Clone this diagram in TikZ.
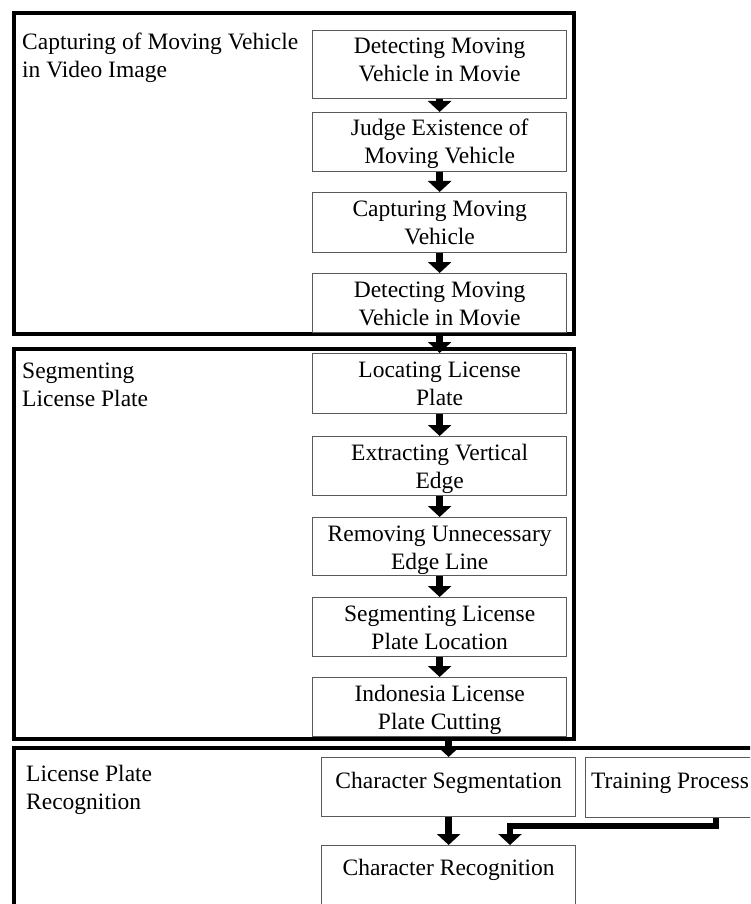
\documentclass[tikz,border=0pt]{standalone}
\usepackage{fontspec}
\setmainfont{Liberation Serif}
\usetikzlibrary{arrows.meta}
\newcommand\mkstep[5]{%
  \node[stepbox, minimum width=254pt, minimum height=#4pt, anchor=north west] (#1) at (#2,#3) {};
  \node[txt, anchor=base, align=center] (#1t) at ([yshift=-52pt]#1.north) {#5};}
\begin{document}
\begin{tikzpicture}[x=1pt,y=-1pt,
  every node/.style={font=\fontsize{23.5}{28}\selectfont},
  txt/.style={inner sep=0pt},
  stepbox/.style={draw=black!65, line width=1.3pt, rectangle, inner sep=0pt},
  sect/.style={draw=black, line width=4pt, line join=miter},
  arr/.style={line width=7pt, -{Triangle[width=23pt,length=11pt]}},
  elb/.style={line width=6pt, line join=miter, -{Triangle[width=23pt,length=11pt]}}]
\useasboundingbox (0,0) rectangle (750,904);
\clip (0,0) rectangle (750,904);
% section frames
\draw[sect] (13.5,13.5) rectangle (574,334);
\draw[sect] (13.5,348.7) rectangle (574,738.5);
\draw[sect] (13.5,930) -- (13.5,748) -- (780,748);
% section labels
\node[txt, anchor=base west, align=left] (l1) at (22,78) {Capturing of Moving Vehicle\\in Video Image};
\node[txt, anchor=base west, align=left] (l2) at (22,406) {Segmenting\\License Plate};
\node[txt, anchor=base west, align=left] (l3) at (26,809) {License Plate\\Recognition};
% steps
\mkstep{s1}{312}{30}{68}{Detecting Moving\\Vehicle in Movie}
\mkstep{s2}{312}{112}{59}{Judge Existence of\\Moving Vehicle}
\mkstep{s3}{312}{192}{60}{Capturing Moving\\Vehicle}
\mkstep{s4}{312}{273}{59}{Detecting Moving\\Vehicle in Movie}
\mkstep{s5}{312}{353}{60}{Locating License\\Plate}
\mkstep{s6}{312}{436}{59}{Extracting Vertical\\Edge}
\mkstep{s7}{312}{517}{58}{Removing Unnecessary\\Edge Line}
\mkstep{s8}{312}{597}{59}{Segmenting License\\Plate Location}
\mkstep{s9}{312}{677}{59}{Indonesia License\\Plate Cutting}
% recognition part
\node[stepbox, minimum width=254pt, minimum height=59pt, anchor=north west] (cs) at (321,757) {};
\node[txt, anchor=base] (cst) at ([yshift=-31pt]cs.north) {Character Segmentation};
\node[stepbox, minimum width=220pt, minimum height=60pt, anchor=north west] (tp) at (585,757) {};
\node[txt, anchor=base west] (tpt) at ([xshift=6pt,yshift=-31pt]tp.north west) {Training Process};
\node[stepbox, minimum width=254pt, minimum height=90pt, anchor=north west] (cr) at (321,845) {};
\node[txt, anchor=base] (crt) at ([yshift=-30pt]cr.north) {Character Recognition};
% arrows
\draw[arr] (s1.south) -- (s2.north);
\draw[arr] (s2.south) -- (s3.north);
\draw[arr] (s3.south) -- (s4.north);
\draw[arr] (s4.south) -- (s5.north);
\draw[arr] (s5.south) -- (s6.north);
\draw[arr] (s6.south) -- (s7.north);
\draw[arr] (s7.south) -- (s8.north);
\draw[arr] (s8.south) -- (s9.north);
\draw[arr] (s9.south -| cs.north) -- (cs.north);
\draw[arr] (cs.south) -- (cr.north);
\coordinate (ex) at (715.5,0);
\coordinate (ej) at (510,826);
\draw[elb] (tp.south -| ex) |- (ej) -- (ej |- cr.north);
\end{tikzpicture}
\end{document}
